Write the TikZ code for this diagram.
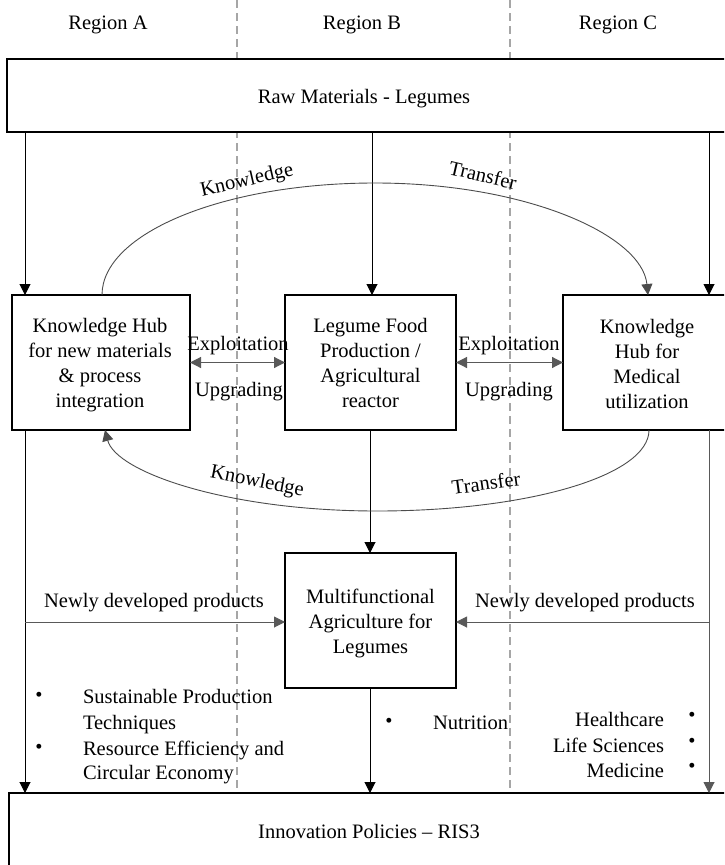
\documentclass[tikz,border=0pt]{standalone}
\usepackage{fontspec}
\setmainfont{Liberation Serif}
\usetikzlibrary{arrows.meta}
\begin{document}
\begin{tikzpicture}[x=1pt,y=-1pt,
  every node/.style={inner sep=0pt, outer sep=0pt},
  txt/.style={font=\fontsize{20.5}{25}\selectfont, align=center},
  bul/.style={font=\fontsize{20.5}{25}\selectfont},
  box/.style={draw=black, line width=1.7pt, fill=white},
  regline/.style={draw=black!35, line width=1.2pt, dash pattern=on 8pt off 5pt},
  tip/.style={-{Triangle[length=11pt,width=11pt]}},
  conn/.style={draw=black, line width=1pt, tip},
  soft/.style={draw=black!65, line width=1pt, tip},
  arcline/.style={draw=black!70, line width=0.9pt, tip},
  both/.style={draw=black!65, line width=1.2pt, {Triangle[length=11pt,width=11pt]}-{Triangle[length=11pt,width=11pt]}},
]
\clip (0,0) rectangle (724,865);
% region guide lines
\coordinate (gAB) at (237,0);
\coordinate (gBC) at (510,0);
\coordinate (gAB2) at (237,793);
\coordinate (gBC2) at (510,793);
\draw[regline] (gAB) -- (gAB2);
\draw[regline] (gBC) -- (gBC2);

% boxes
\node[box, minimum width=740pt, minimum height=73pt] (raw) at (377,95.5) {};
\node[box, minimum width=178pt, minimum height=135pt] (hubA) at (101,362.5) {};
\node[box, minimum width=171pt, minimum height=135pt] (prodB) at (370.5,362.5) {};
\node[box, minimum width=180pt, minimum height=135pt] (hubC) at (653,362.5) {};
\node[box, minimum width=171pt, minimum height=135pt] (multi) at (370.5,620.5) {};
\node[box, minimum width=740pt, minimum height=100pt] (ris) at (379,843) {};

% columns
\coordinate (xA) at (25,0);
\coordinate (xB) at (372,0);
\coordinate (xB2) at (370,0);
\coordinate (xC) at (709,0);
\coordinate (yN) at (0,622);
\coordinate (uA) at (102,0);
\coordinate (uC) at (648,0);
\coordinate (lA) at (105,0);
\coordinate (lC) at (649,0);

% connectors
\draw[conn] (raw.south -| xA) -- (hubA.north -| xA);
\draw[conn] (raw.south -| xB) -- (prodB.north -| xB);
\draw[conn] (raw.south -| xC) -- (hubC.north -| xC);
\draw[conn] (hubA.south -| xA) -- (ris.north -| xA);
\draw[soft] (hubC.south -| xC) -- (ris.north -| xC);
\draw[conn] (prodB.south -| xB2) -- (multi.north -| xB2);
\draw[conn] (multi.south -| xB2) -- (ris.north -| xB2);
\draw[soft] (xA |- yN) -- (multi.west |- yN);
\draw[soft] (xC |- yN) -- (multi.east |- yN);
\draw[both] (hubA.east) -- (prodB.west);
\draw[both] (prodB.east) -- (hubC.west);

% knowledge transfer arcs
\draw[arcline] (hubA.north -| uA) .. controls (102,233) and (224,183) .. (375,183)
  .. controls (526,183) and (642,235) .. (hubC.north -| uC);
\draw[arcline] (hubC.south -| lC) .. controls (649,476) and (527,511) .. (377,511)
  .. controls (227,511) and (116,472) .. (hubA.south -| lA);

% texts
\node[txt, anchor=base] (regA) at (108,29) {Region A};
\node[txt, anchor=base] (regB) at (362,29) {Region B};
\node[txt, anchor=base] (regC) at (618,29) {Region C};
\node[txt, anchor=base] (rawT) at (364,103) {Raw Materials - Legumes};
\node[txt] (hubAT) at (100,365) {Knowledge Hub\\for new materials\\\& process\\integration};
\node[txt] (prodBT) at (370.5,363) {Legume Food\\Production /\\Agricultural\\reactor};
\node[txt] (hubCT) at (647,363.5) {Knowledge\\Hub for\\Medical\\utilization};
\node[txt] (multiT) at (370.5,623) {Multifunctional\\Agriculture for\\Legumes};
\node[txt, anchor=base] (risT) at (369,838) {Innovation Policies – RIS3};

\node[txt, anchor=base] (exA) at (238,350) {Exploitation};
\node[txt, anchor=base] (upA) at (239,396) {Upgrading};
\node[txt, anchor=base] (exC) at (509,350) {Exploitation};
\node[txt, anchor=base] (upC) at (509,396) {Upgrading};

\node[txt, rotate=13] (kn1) at (247,181) {Knowledge};
\node[txt, rotate=-13] (tr1) at (483,175) {Transfer};
\node[txt, rotate=-11] (kn2) at (257,482) {Knowledge};
\node[txt, rotate=8] (tr2) at (486,483) {Transfer};

\node[txt, anchor=base] (nwA) at (154,607) {Newly developed products};
\node[txt, anchor=base] (nwC) at (585,607) {Newly developed products};

\node[bul, anchor=base] (b1) at (39,701) {•};
\node[txt, anchor=base west] (l1) at (83,703) {Sustainable Production};
\node[txt, anchor=base west] (l2) at (83,729) {Techniques};
\node[bul, anchor=base] (b2) at (39,753) {•};
\node[txt, anchor=base west] (l3) at (83,755) {Resource Efficiency and};
\node[txt, anchor=base west] (l4) at (83,779) {Circular Economy};

\node[bul, anchor=base] (b3) at (389,727) {•};
\node[txt, anchor=base west] (nut) at (433,729) {Nutrition};

\node[txt, anchor=base east] (h1) at (664,726) {Healthcare};
\node[txt, anchor=base east] (h2) at (664,752) {Life Sciences};
\node[txt, anchor=base east] (h3) at (664,777) {Medicine};
\node[bul, anchor=base] (b4) at (692,721) {•};
\node[bul, anchor=base] (b5) at (692,747) {•};
\node[bul, anchor=base] (b6) at (692,772) {•};
\end{tikzpicture}
\end{document}
